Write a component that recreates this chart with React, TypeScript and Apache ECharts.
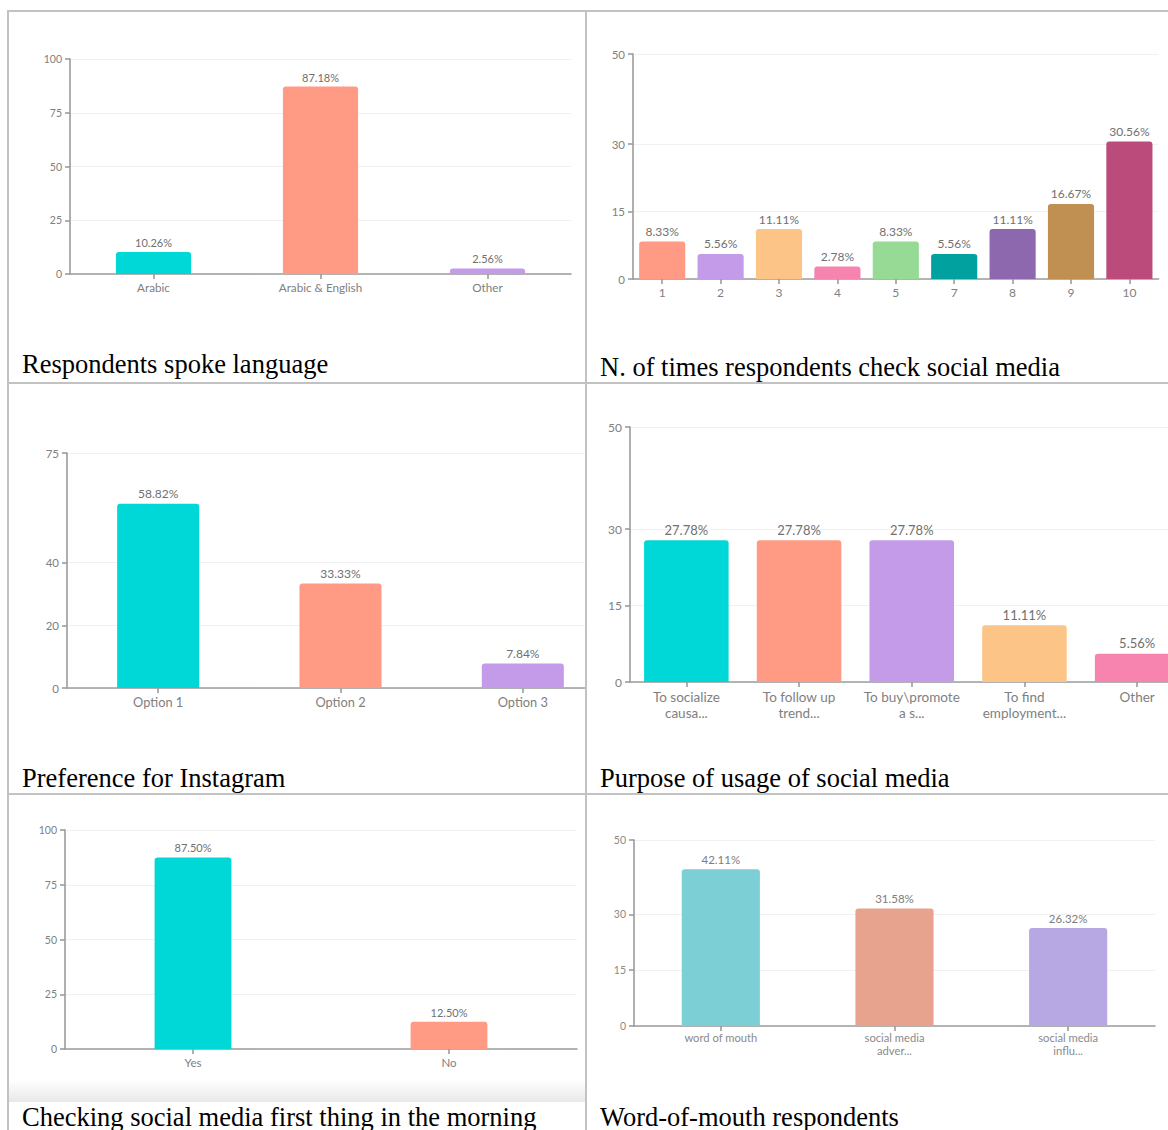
import React, { useEffect, useRef } from 'react';
import * as echarts from 'echarts';

// ---------- data ----------
const languageCategories = ['Arabic', 'Arabic & English', 'Other'];
const languageValues = [10.26, 87.18, 2.56];
const languageTicks = [0, 25, 50, 75, 100];

const checkCategories = ['1', '2', '3', '4', '5', '7', '8', '9', '10'];
const checkValues = [8.33, 5.56, 11.11, 2.78, 8.33, 5.56, 11.11, 16.67, 30.56];
const checkTicks = [0, 15, 30, 50];

const instagramCategories = ['Option 1', 'Option 2', 'Option 3'];
const instagramValues = [58.82, 33.33, 7.84];
const instagramTicks = [0, 20, 40, 75];

const purposeCategories = ['To socialize\ncausa...', 'To follow up\ntrend...', 'To buy\\promote\na s...', 'To find\nemployment...', 'Other'];
const purposeValues = [27.78, 27.78, 27.78, 11.11, 5.56];
const purposeTicks = [0, 15, 30, 50];

const morningCategories = ['Yes', 'No'];
const morningValues = [87.5, 12.5];
const morningTicks = [0, 25, 50, 75, 100];

const wordCategories = ['word of mouth', 'social media\nadver...', 'social media\ninflu...'];
const wordValues = [42.11, 31.58, 26.32];
const wordTicks = [0, 15, 30, 50];

const captions = [
  'Respondents spoke language',
  'N. of times respondents check social media',
  'Preference for Instagram',
  'Purpose of usage of social media',
  'Checking social media first thing in the morning',
  'Word-of-mouth respondents',
];

// ---------- palettes ----------
const paletteMain = ['#00D8D8', '#FF9B85', '#C39BE8', '#FCC487', '#F784AE'];
const paletteCheck = ['#FF9B85', '#C39BE8', '#FCC487', '#F784AE', '#96DA96', '#00A19F', '#8D68AF', '#C08F52', '#BB4B7A'];
const paletteWord = ['#7BCFD5', '#E8A38E', '#B7A7E2'];

type Box = { left: number; top: number; width: number; height: number };
type ChartProps = {
  cell: Box;
  grid: { l: number; r: number; t: number; b: number };
  categories: string[];
  values: number[];
  ticks: number[];
  colors: string[];
  barWidth: string;
  valueFont: number;
  xFont: number;
  yFont: number;
  xLineHeight?: number;
  xMargin: number;
  valueColor?: string;
  axisLabelColor?: string;
};

function BarChart(p: ChartProps) {
  const ref = useRef<HTMLDivElement>(null);
  useEffect(() => {
    if (!ref.current) return;
    const chart = echarts.init(ref.current, null, { renderer: 'svg' });
    const max = p.ticks[p.ticks.length - 1];
    const axisColor = '#9c9c9c';
    const labelColor = p.axisLabelColor || '#808080';
    chart.setOption({
      animation: false,
      grid: {
        left: p.grid.l - p.cell.left,
        top: p.grid.t - p.cell.top,
        width: p.grid.r - p.grid.l,
        height: p.grid.b - p.grid.t,
        containLabel: false,
        outerBoundsMode: 'none',
      },
      xAxis: {
        type: 'category',
        data: p.categories,
        axisLine: { show: true, lineStyle: { color: axisColor, width: 1.6 } },
        axisTick: { show: true, alignWithLabel: true, length: 5, lineStyle: { color: axisColor, width: 1.6 } },
        axisLabel: {
          interval: 0,
          color: labelColor,
          fontFamily: 'Lato',
          fontSize: p.xFont,
          lineHeight: p.xLineHeight || p.xFont + 3,
          margin: p.xMargin,
        },
        splitLine: { show: false },
      },
      yAxis: {
        type: 'value',
        min: 0,
        max: max,
        axisLine: { show: true, lineStyle: { color: axisColor, width: 1.6 } },
        axisTick: { show: true, length: 5, customValues: p.ticks, lineStyle: { color: axisColor, width: 1.6 } },
        axisLabel: { color: labelColor, fontFamily: 'Lato', fontSize: p.yFont, margin: 8, customValues: p.ticks },
        splitLine: { show: true, lineStyle: { color: '#f1f1f1', width: 1 } },
      },
      series: [
        {
          type: 'bar',
          barWidth: p.barWidth,
          data: p.values.map((v, i) => ({ value: v, itemStyle: { color: p.colors[i % p.colors.length] } })),
          itemStyle: { borderRadius: [3, 3, 0, 0] },
          label: {
            show: true,
            position: 'top',
            distance: 4,
            color: p.valueColor || '#707070',
            fontFamily: 'Lato',
            fontSize: p.valueFont,
            formatter: (q: any) => Number(q.value).toFixed(2) + '%',
          },
        },
      ],
    });
    return () => chart.dispose();
  }, []);
  return (
    <div style={{ position: 'absolute', left: p.cell.left, top: p.cell.top, width: p.cell.width, height: p.cell.height, overflow: 'hidden' }}>
      <div ref={ref} style={{ position: 'absolute', left: 0, top: 0, width: 640, height: p.cell.height }} />
    </div>
  );
}

const cellA: Box = { left: 8, top: 12, width: 577, height: 371 };
const cellB: Box = { left: 586, top: 11, width: 582, height: 372 };
const cellC: Box = { left: 8, top: 384, width: 577, height: 410 };
const cellD: Box = { left: 586, top: 384, width: 582, height: 410 };
const cellE: Box = { left: 8, top: 795, width: 577, height: 335 };
const cellF: Box = { left: 586, top: 795, width: 582, height: 335 };

const captionPos = [
  { x: 22, base: 373 },
  { x: 600, base: 376 },
  { x: 22, base: 787 },
  { x: 600, base: 787 },
  { x: 22, base: 1126 },
  { x: 600, base: 1126 },
];

const borderColor = '#c2c2c2';

export default function App() {
  const capFont = 26.5;
  return (
    <div style={{ position: 'fixed', left: 0, top: 0, width: 1168, height: 1130, overflow: 'hidden', background: '#ffffff' }}>
      {/* gradient shadow at bottom of cell E */}
      <div style={{ position: 'absolute', left: 8, top: 1080, width: 577, height: 22, background: 'linear-gradient(to bottom, #ffffff, #e8e8e8)' }} />

      <BarChart cell={cellA} grid={{ l: 70, r: 571, t: 59, b: 274 }} categories={languageCategories} values={languageValues}
        ticks={languageTicks} colors={paletteMain} barWidth="45%" valueFont={11} xFont={11.7} yFont={10.5} xMargin={5.5} />
      <BarChart cell={cellB} grid={{ l: 633, r: 1158.6, t: 54, b: 279 }} categories={checkCategories} values={checkValues}
        ticks={checkTicks} colors={paletteCheck} barWidth="79%" valueFont={12} xFont={12} yFont={11.5} xMargin={6} />
      <BarChart cell={cellC} grid={{ l: 67, r: 614, t: 453, b: 688 }} categories={instagramCategories} values={instagramValues}
        ticks={instagramTicks} colors={paletteMain} barWidth="45%" valueFont={12} xFont={12.8} yFont={11.5} xMargin={6.5} />
      <BarChart cell={cellD} grid={{ l: 630, r: 1193.5, t: 427, b: 682 }} categories={purposeCategories} values={purposeValues}
        ticks={purposeTicks} colors={paletteMain} barWidth="75%" valueFont={13} xFont={13.5} yFont={12} xLineHeight={16} xMargin={6.5} />
      <BarChart cell={cellE} grid={{ l: 65, r: 577, t: 830, b: 1049 }} categories={morningCategories} values={morningValues}
        ticks={morningTicks} colors={paletteMain} barWidth="30%" valueFont={11} xFont={11.5} yFont={10.5} xMargin={6} />
      <BarChart cell={cellF} grid={{ l: 634, r: 1155, t: 840, b: 1026 }} categories={wordCategories} values={wordValues}
        ticks={wordTicks} colors={paletteWord} barWidth="45%" valueFont={11.5} xFont={11.2} yFont={10.5} xLineHeight={12.5} xMargin={5.5}
        valueColor="#7d7d7d" axisLabelColor="#8a8a8a" />

      {captions.map((c, i) => (
        <div key={i} style={{
          position: 'absolute', left: captionPos[i].x, top: captionPos[i].base - capFont * 0.8375,
          fontFamily: '"Liberation Serif", "Times New Roman", serif', fontSize: capFont, lineHeight: capFont + 'px',
          color: '#000', whiteSpace: 'nowrap',
        }}>{c}</div>
      ))}

      {/* table borders */}
      <div style={{ position: 'absolute', left: 7, top: 10, width: 1161, height: 2, background: borderColor }} />
      <div style={{ position: 'absolute', left: 7, top: 382, width: 1161, height: 2, background: borderColor }} />
      <div style={{ position: 'absolute', left: 7, top: 793, width: 1161, height: 2, background: borderColor }} />
      <div style={{ position: 'absolute', left: 7, top: 10, width: 1.5, height: 1120, background: borderColor }} />
      <div style={{ position: 'absolute', left: 585, top: 10, width: 1.5, height: 1120, background: borderColor }} />
    </div>
  );
}
